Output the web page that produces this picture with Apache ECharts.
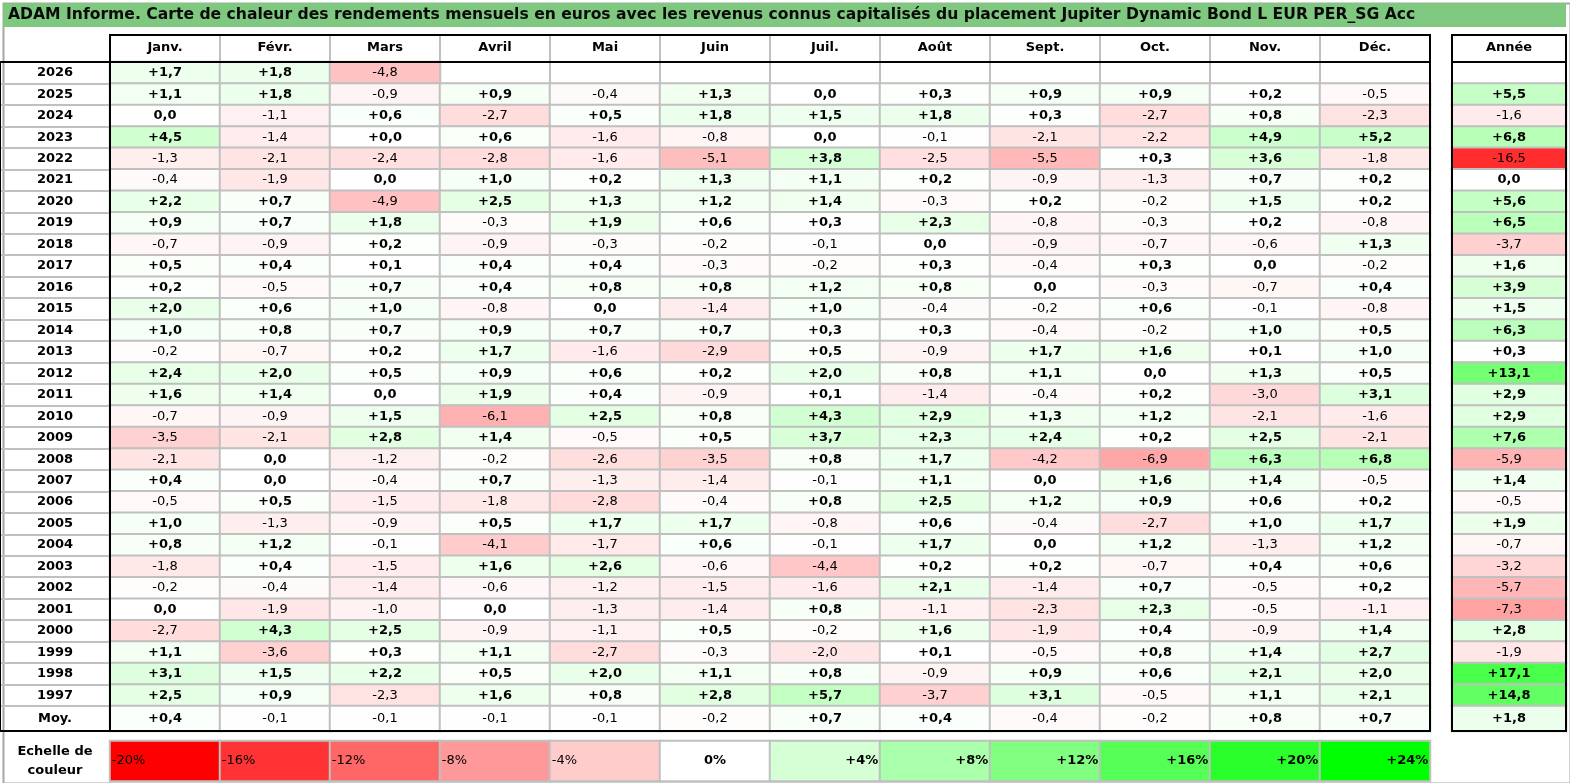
<!DOCTYPE html>
<html><head><meta charset="utf-8">
<script src="https://cdn.jsdelivr.net/npm/echarts@6/dist/echarts.min.js"></script>
<style>html,body{margin:0;padding:0;background:#fff}#c{width:1570px;height:783px}</style>
</head><body><div id="c"></div><script>
const TITLE = 'ADAM Informe. Carte de chaleur des rendements mensuels en euros avec les revenus connus capitalisés du placement Jupiter Dynamic Bond L EUR PER_SG Acc';
const months = ['Janv.','Févr.','Mars','Avril','Mai','Juin','Juil.','Août','Sept.','Oct.','Nov.','Déc.'];
const years = ['2026','2025','2024','2023','2022','2021','2020','2019','2018','2017','2016','2015','2014','2013','2012','2011','2010','2009','2008','2007','2006','2005','2004','2003','2002','2001','2000','1999','1998','1997'];
const avgLabel = 'Moy.';
const yearColLabel = 'Année';
const scaleLabel = 'Echelle de\ncouleur';

// monthly returns (%), Janv..Déc
const r2026 = [1.7, 1.8, -4.8, null, null, null, null, null, null, null, null, null];
const r2025 = [1.1, 1.8, -0.9, 0.9, -0.4, 1.3, 0.0, 0.3, 0.9, 0.9, 0.2, -0.5];
const r2024 = [0.0, -1.1, 0.6, -2.7, 0.5, 1.8, 1.5, 1.8, 0.3, -2.7, 0.8, -2.3];
const r2023 = [4.5, -1.4, 0.02, 0.6, -1.6, -0.8, 0.0, -0.1, -2.1, -2.2, 4.9, 5.2];
const r2022 = [-1.3, -2.1, -2.4, -2.8, -1.6, -5.1, 3.8, -2.5, -5.5, 0.3, 3.6, -1.8];
const r2021 = [-0.4, -1.9, 0.0, 1.0, 0.2, 1.3, 1.1, 0.2, -0.9, -1.3, 0.7, 0.2];
const r2020 = [2.2, 0.7, -4.9, 2.5, 1.3, 1.2, 1.4, -0.3, 0.2, -0.2, 1.5, 0.2];
const r2019 = [0.9, 0.7, 1.8, -0.3, 1.9, 0.6, 0.3, 2.3, -0.8, -0.3, 0.2, -0.8];
const r2018 = [-0.7, -0.9, 0.2, -0.9, -0.3, -0.2, -0.1, 0.0, -0.9, -0.7, -0.6, 1.3];
const r2017 = [0.5, 0.4, 0.1, 0.4, 0.4, -0.3, -0.2, 0.3, -0.4, 0.3, 0.0, -0.2];
const r2016 = [0.2, -0.5, 0.7, 0.4, 0.8, 0.8, 1.2, 0.8, 0.0, -0.3, -0.7, 0.4];
const r2015 = [2.0, 0.6, 1.0, -0.8, 0.0, -1.4, 1.0, -0.4, -0.2, 0.6, -0.1, -0.8];
const r2014 = [1.0, 0.8, 0.7, 0.9, 0.7, 0.7, 0.3, 0.3, -0.4, -0.2, 1.0, 0.5];
const r2013 = [-0.2, -0.7, 0.2, 1.7, -1.6, -2.9, 0.5, -0.9, 1.7, 1.6, 0.1, 1.0];
const r2012 = [2.4, 2.0, 0.5, 0.9, 0.6, 0.2, 2.0, 0.8, 1.1, 0.0, 1.3, 0.5];
const r2011 = [1.6, 1.4, 0.0, 1.9, 0.4, -0.9, 0.1, -1.4, -0.4, 0.2, -3.0, 3.1];
const r2010 = [-0.7, -0.9, 1.5, -6.1, 2.5, 0.8, 4.3, 2.9, 1.3, 1.2, -2.1, -1.6];
const r2009 = [-3.5, -2.1, 2.8, 1.4, -0.5, 0.5, 3.7, 2.3, 2.4, 0.2, 2.5, -2.1];
const r2008 = [-2.1, 0.0, -1.2, -0.2, -2.6, -3.5, 0.8, 1.7, -4.2, -6.9, 6.3, 6.8];
const r2007 = [0.4, 0.0, -0.4, 0.7, -1.3, -1.4, -0.1, 1.1, 0.0, 1.6, 1.4, -0.5];
const r2006 = [-0.5, 0.5, -1.5, -1.8, -2.8, -0.4, 0.8, 2.5, 1.2, 0.9, 0.6, 0.2];
const r2005 = [1.0, -1.3, -0.9, 0.5, 1.7, 1.7, -0.8, 0.6, -0.4, -2.7, 1.0, 1.7];
const r2004 = [0.8, 1.2, -0.1, -4.1, -1.7, 0.6, -0.1, 1.7, 0.0, 1.2, -1.3, 1.2];
const r2003 = [-1.8, 0.4, -1.5, 1.6, 2.6, -0.6, -4.4, 0.2, 0.2, -0.7, 0.4, 0.6];
const r2002 = [-0.2, -0.4, -1.4, -0.6, -1.2, -1.5, -1.6, 2.1, -1.4, 0.7, -0.5, 0.2];
const r2001 = [0.0, -1.9, -1.0, 0.0, -1.3, -1.4, 0.8, -1.1, -2.3, 2.3, -0.5, -1.1];
const r2000 = [-2.7, 4.3, 2.5, -0.9, -1.1, 0.5, -0.2, 1.6, -1.9, 0.4, -0.9, 1.4];
const r1999 = [1.1, -3.6, 0.3, 1.1, -2.7, -0.3, -2.0, 0.1, -0.5, 0.8, 1.4, 2.7];
const r1998 = [3.1, 1.5, 2.2, 0.5, 2.0, 1.1, 0.8, -0.9, 0.9, 0.6, 2.1, 2.0];
const r1997 = [2.5, 0.9, -2.3, 1.6, 0.8, 2.8, 5.7, -3.7, 3.1, -0.5, 1.1, 2.1];
const rows = [r2026,r2025,r2024,r2023,r2022,r2021,r2020,r2019,r2018,r2017,r2016,r2015,r2014,r2013,r2012,r2011,r2010,r2009,r2008,r2007,r2006,r2005,r2004,r2003,r2002,r2001,r2000,r1999,r1998,r1997];

// yearly returns (%), same order as years
const annual = [null, 5.5, -1.6, 6.8, -16.5, 0.0, 5.6, 6.5, -3.7, 1.6, 3.9, 1.5, 6.3, 0.3, 13.1, 2.9, 2.9, 7.6, -5.9, 1.4, -0.5, 1.9, -0.7, -3.2, -5.7, -7.3, 2.8, -1.9, 17.1, 14.8];
// monthly averages
const monthAvg = [0.4, -0.1, -0.1, -0.1, -0.1, -0.2, 0.7, 0.4, -0.4, -0.2, 0.8, 0.7];
const annualAvg = [1.8];

// colour scale
const scaleSteps = [-20, -16, -12, -8, -4, 0, 4, 8, 12, 16, 20, 24];
const scaleColors = ['#ff0000','#ff3333','#ff6666','#ff9999','#ffcccc','#ffffff','#d5ffd5','#aaffaa','#80ff80','#55ff55','#2bff2b','#00ff00'];

const FONT = 'DejaVu Sans';
const GRAY = '#c0c0c0';

function fmt(v) {
  const s = Math.abs(v).toFixed(1).replace('.', ',');
  if (v > 0) return '+' + s;
  if (v < 0 && s !== '0,0') return '-' + s;
  return s;
}
const rich = {
  b: { fontFamily: FONT, fontWeight: 'bold', fontSize: 13, color: '#000' },
  n: { fontFamily: FONT, fontWeight: 'normal', fontSize: 13, color: '#000' }
};
const cellLabel = {
  show: true,
  formatter: p => (p.value[2] >= 0 ? '{b|' : '{n|') + fmt(p.value[2]) + '}',
  rich: rich
};
const cellStyle = { borderColor: GRAY, borderWidth: 2 };

// build data
const mainData = [];
rows.forEach((r, yi) => r.forEach((v, mi) => { if (v !== null) mainData.push([mi, yi, v]); }));
const avgData = monthAvg.map((v, mi) => [mi, 0, v]);
const annualData = [];
annual.forEach((v, yi) => { if (v !== null) annualData.push([0, yi, v]); });
const annualAvgData = annualAvg.map(v => [0, 0, v]);
const scaleData = scaleSteps.map((v, i) => ({
  value: [i, 0, v],
  label: {
    position: v < 0 ? 'insideLeft' : (v === 0 ? 'inside' : 'insideRight'),
    distance: 3
  }
}));

const L = 110, W = 1320, AL = 1452, AW = 114;
const HT = 35, DT = 62, DH = 644, MT = 706, MH = 25, BOT = 731;

const boldLab = { fontFamily: FONT, fontWeight: 'bold', fontSize: 13, color: '#000' };
const hidden = (gi) => ({ gridIndex: gi, type: 'value', show: false });
const splitCat = (gi, data, extra) => Object.assign({
  gridIndex: gi, type: 'category', data: data,
  axisLine: { show: false }, axisTick: { show: false }, axisLabel: { show: false },
  splitLine: { show: true, interval: 0, lineStyle: { color: GRAY, width: 2 } }
}, extra || {});
const frame = (l, t, w, h) => ({ left: l, top: t, width: w, height: h, show: true, borderColor: '#000', borderWidth: 2, backgroundColor: 'transparent', z: 10 });

const option = {
  animation: false,
  backgroundColor: '#fff',
  graphic: [
    { type: 'rect', left: 1, top: 1, shape: { width: 1567, height: 780 }, style: { fill: 'none', stroke: '#a6a6a6', lineWidth: 2 }, z: 0 },
    { type: 'rect', shape: { x: 3, y: 3, width: 1563, height: 24 }, style: { fill: '#7fc87f' }, z: 1 },
    { type: 'text', x: 8, y: 15, style: { text: TITLE, fontFamily: FONT, fontWeight: 'bold', fontSize: 15.6, fill: '#0a0a0a', verticalAlign: 'middle' }, z: 2 }
  ],
  visualMap: {
    show: false, type: 'continuous', min: -20, max: 24, dimension: 2,
    seriesIndex: [0, 1, 2, 3, 4],
    inRange: { color: scaleColors }
  },
  grid: [
    { left: L, top: DT, width: W, height: DH },          // 0 main years
    { left: L, top: MT, width: W, height: MH },          // 1 main avg
    { left: AL, top: DT, width: AW, height: DH },        // 2 annual years
    { left: AL, top: MT, width: AW, height: MH },        // 3 annual avg
    frame(L, HT, W, DT - HT),                            // 4 header months
    frame(AL, HT, AW, DT - HT),                          // 5 header annual
    { left: L, top: 741, width: W, height: 40 },         // 6 colour scale
    { left: 0, top: DT, width: L, height: DH },          // 7 year column lines
    frame(0, DT, L, BOT - DT),                           // 8 year column frame
    frame(L, DT, W, BOT - DT),                           // 9 main frame
    frame(AL, DT, AW, BOT - DT)                          // 10 annual frame
  ],
  xAxis: [
    splitCat(0, months, { position: 'top', axisLabel: Object.assign({ show: true, margin: 8, interval: 0 }, boldLab) }),
    splitCat(1, months),
    splitCat(2, [yearColLabel], { position: 'top', axisLabel: Object.assign({ show: true, margin: 8 }, boldLab) }),
    splitCat(3, [yearColLabel]),
    splitCat(4, months),
    hidden(5),
    splitCat(6, scaleSteps.map(String), { splitLine: { show: false } }),
    hidden(7), hidden(8), hidden(9), hidden(10)
  ],
  yAxis: [
    splitCat(0, years, { inverse: true, axisLabel: Object.assign({ show: true, margin: 55, align: 'center', interval: 0 }, boldLab) }),
    splitCat(1, [avgLabel], { axisLabel: Object.assign({ show: true, margin: 55, align: 'center' }, boldLab) }),
    splitCat(2, years, { inverse: true }),
    splitCat(3, [avgLabel]),
    hidden(4), hidden(5),
    splitCat(6, [scaleLabel], { splitLine: { show: false }, axisLabel: Object.assign({ show: true, margin: 55, align: 'center', lineHeight: 19 }, boldLab) }),
    splitCat(7, years, { inverse: true }),
    hidden(8), hidden(9), hidden(10)
  ],
  series: [
    { type: 'heatmap', xAxisIndex: 0, yAxisIndex: 0, data: mainData, label: cellLabel, itemStyle: cellStyle, emphasis: { disabled: true } },
    { type: 'heatmap', xAxisIndex: 1, yAxisIndex: 1, data: avgData, label: cellLabel, itemStyle: cellStyle, emphasis: { disabled: true } },
    { type: 'heatmap', xAxisIndex: 2, yAxisIndex: 2, data: annualData, label: cellLabel, itemStyle: cellStyle, emphasis: { disabled: true } },
    { type: 'heatmap', xAxisIndex: 3, yAxisIndex: 3, data: annualAvgData, label: cellLabel, itemStyle: cellStyle, emphasis: { disabled: true } },
    { type: 'heatmap', xAxisIndex: 6, yAxisIndex: 6, data: scaleData, itemStyle: cellStyle, emphasis: { disabled: true },
      label: { show: true, formatter: p => { const v = p.value[2]; return v < 0 ? '{n|' + v + '%}' : '{b|' + (v > 0 ? '+' : '') + v + '%}'; }, rich: rich } }
  ]
};
const chart = echarts.init(document.getElementById('c'), null, { renderer: 'canvas' });
chart.setOption(option);
</script></body></html>
